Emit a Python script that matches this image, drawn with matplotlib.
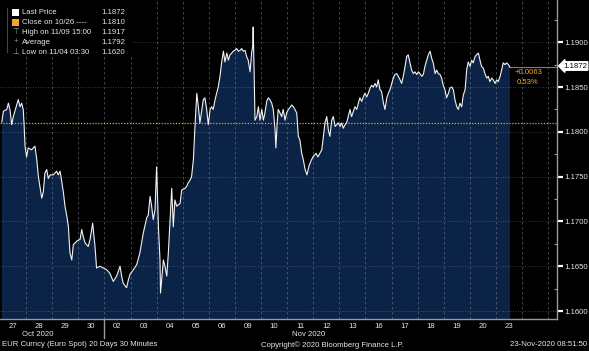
import matplotlib
matplotlib.use("Agg")
import matplotlib.pyplot as plt
from matplotlib.patches import Rectangle
from matplotlib.lines import Line2D

plt.rcParams['font.family'] = ['Liberation Sans', 'DejaVu Sans']

# trading days shown on the x axis (weekends compressed)
day_labels = ["27", "28", "29", "30", "02", "03", "04", "05", "06", "09",
              "10", "11", "12", "13", "16", "17", "18", "19", "20", "23"]

# position in trading days since 27 Oct 00:00, EUR/USD 30 min closes
t = [0.07, 0.13, 0.26, 0.32, 0.38, 0.45, 0.51, 0.64, 0.70, 0.77, 0.83, 0.89, 0.92, 0.96,
     1.02, 1.08, 1.21, 1.34, 1.41, 1.47, 1.53, 1.60, 1.66, 1.72, 1.79, 1.85, 1.92,
     2.04, 2.17, 2.23, 2.30, 2.36, 2.43, 2.49, 2.56, 2.62, 2.68, 2.75, 2.81, 2.94,
     3.07, 3.13, 3.19, 3.26, 3.38, 3.45, 3.55, 3.64, 3.70, 3.83, 3.96,
     4.09, 4.21, 4.34, 4.47, 4.60, 4.66, 4.72, 4.85, 4.92, 4.98,
     5.11, 5.24, 5.36, 5.49, 5.62, 5.68, 5.75, 5.81, 5.87, 5.94,
     6.00, 6.07, 6.13, 6.15, 6.26, 6.32, 6.39, 6.45, 6.51, 6.58, 6.64, 6.70, 6.77, 6.90, 6.96,
     7.09, 7.15, 7.21, 7.28, 7.34, 7.41, 7.47, 7.54, 7.60, 7.66, 7.79, 7.85, 7.92, 7.98,
     8.05, 8.11, 8.17, 8.24, 8.30, 8.36, 8.43, 8.49, 8.56, 8.62, 8.69, 8.75, 8.81, 8.88, 8.94,
     9.00, 9.07, 9.13, 9.20, 9.26, 9.32, 9.39, 9.45, 9.51, 9.58, 9.64, 9.68, 9.70, 9.74, 9.77,
     9.84, 9.90, 9.96,
     10.03, 10.09, 10.15, 10.22, 10.28, 10.34, 10.41, 10.47, 10.54, 10.57, 10.62, 10.66, 10.73,
     10.79, 10.85, 10.92, 10.98,
     11.05, 11.18, 11.24, 11.30, 11.37, 11.43, 11.49, 11.56, 11.62, 11.69, 11.76, 11.84, 11.92, 11.99,
     12.11, 12.18, 12.33, 12.39, 12.45, 12.52, 12.58, 12.64, 12.71, 12.77, 12.84, 12.90, 12.96,
     13.03, 13.09, 13.15, 13.22, 13.28, 13.34, 13.41, 13.47, 13.54, 13.60, 13.67, 13.73, 13.79,
     13.86, 13.92, 13.98,
     14.05, 14.11, 14.18, 14.24, 14.30, 14.37, 14.43, 14.49, 14.56, 14.62, 14.69, 14.75, 14.82,
     14.88, 14.94,
     15.01, 15.07, 15.13, 15.20, 15.26, 15.33, 15.39, 15.45, 15.52, 15.58, 15.64, 15.71, 15.77,
     15.84, 15.90, 15.97,
     16.03, 16.09, 16.16, 16.22, 16.28, 16.35, 16.41, 16.48, 16.54, 16.60, 16.67, 16.73, 16.79,
     16.86, 16.92, 16.98,
     17.05, 17.11, 17.18, 17.24, 17.31, 17.37, 17.43, 17.50, 17.56, 17.62, 17.69, 17.75, 17.82,
     17.88, 17.94,
     18.01, 18.07, 18.13, 18.20, 18.26, 18.33, 18.39, 18.45, 18.52, 18.58, 18.65, 18.71, 18.77,
     18.84, 18.90, 18.97,
     19.03, 19.09, 19.16, 19.22, 19.28, 19.35, 19.41, 19.48, 19.54]

price = [1.1811, 1.1823, 1.1825, 1.1832, 1.1825, 1.1808, 1.1817, 1.1830, 1.1836, 1.1828, 1.1832, 1.1825, 1.1810, 1.1784,
         1.1772, 1.1782, 1.1780, 1.1784, 1.1769, 1.1750, 1.1739, 1.1726, 1.1733, 1.1754, 1.1758, 1.1748, 1.1752,
         1.1752, 1.1756, 1.1752, 1.1756, 1.1746, 1.1732, 1.1717, 1.1706, 1.1694, 1.1665, 1.1657, 1.1674, 1.1678,
         1.1680, 1.1691, 1.1683, 1.1676, 1.1672, 1.1680, 1.1698, 1.1672, 1.1648, 1.1650, 1.1648,
         1.1646, 1.1642, 1.1633, 1.1639, 1.1650, 1.1639, 1.1631, 1.1626, 1.1635, 1.1641,
         1.1646, 1.1652, 1.1665, 1.1687, 1.1704, 1.1707, 1.1728, 1.1717, 1.1702, 1.1713,
         1.1761, 1.1694, 1.1657, 1.1620, 1.1657, 1.1650, 1.1639, 1.1665, 1.1698, 1.1737, 1.1694, 1.1724, 1.1717, 1.1720, 1.1735,
         1.1737, 1.1739, 1.1743, 1.1746, 1.1750, 1.1769, 1.1806, 1.1843, 1.1828, 1.1810, 1.1836, 1.1838, 1.1825, 1.1808,
         1.1825, 1.1828, 1.1825, 1.1836, 1.1843, 1.1850, 1.1862, 1.1877, 1.1890, 1.1878, 1.1888, 1.1880, 1.1886, 1.1888, 1.1890,
         1.1891, 1.1893, 1.1890, 1.1891, 1.1893, 1.1890, 1.1891, 1.1884, 1.1880, 1.1867, 1.1888, 1.1895, 1.1917, 1.1862, 1.1813,
         1.1817, 1.1828, 1.1813,
         1.1825, 1.1813, 1.1821, 1.1834, 1.1838, 1.1836, 1.1832, 1.1825, 1.1802, 1.1782, 1.1810, 1.1825, 1.1821,
         1.1817, 1.1825, 1.1813, 1.1821,
         1.1825, 1.1830, 1.1828, 1.1825, 1.1821, 1.1795, 1.1791, 1.1776, 1.1769, 1.1758, 1.1752, 1.1762, 1.1768, 1.1772,
         1.1776, 1.1772, 1.1780, 1.1795, 1.1810, 1.1817, 1.1802, 1.1795, 1.1813, 1.1817, 1.1806, 1.1808, 1.1810,
         1.1806, 1.1810, 1.1804, 1.1808, 1.1810, 1.1817, 1.1825, 1.1817, 1.1823, 1.1828, 1.1825, 1.1832, 1.1838,
         1.1834, 1.1839, 1.1843,
         1.1839, 1.1843, 1.1849, 1.1852, 1.1850, 1.1854, 1.1850, 1.1858, 1.1847, 1.1845, 1.1832, 1.1825, 1.1838,
         1.1843, 1.1847,
         1.1854, 1.1860, 1.1864, 1.1865, 1.1862, 1.1858, 1.1854, 1.1862, 1.1873, 1.1884, 1.1886, 1.1877, 1.1869,
         1.1865, 1.1867, 1.1864,
         1.1867, 1.1865, 1.1862, 1.1864, 1.1873, 1.1880, 1.1886, 1.1890, 1.1882, 1.1877, 1.1865, 1.1869, 1.1865,
         1.1864, 1.1860, 1.1852,
         1.1847, 1.1838, 1.1843, 1.1849, 1.1850, 1.1847, 1.1836, 1.1828, 1.1825, 1.1832, 1.1828, 1.1841, 1.1847,
         1.1869, 1.1878,
         1.1873, 1.1880, 1.1877, 1.1884, 1.1886, 1.1888, 1.1880, 1.1873, 1.1871, 1.1865, 1.1860, 1.1862, 1.1856,
         1.1860, 1.1858, 1.1854,
         1.1858, 1.1856, 1.1862, 1.1869, 1.1877, 1.1875, 1.1877, 1.1875, 1.1872]

close_prev = 1.1810
last_price = 1.1872
legend_rows = [("Last Price", "1.1872"), ("Close on 10/26 ----", "1.1810"),
               ("High on 11/09 15:00", "1.1917"), ("Average", "1.1792"),
               ("Low on 11/04 03:30", "1.1620")]
y_ticks = [1.1600, 1.1650, 1.1700, 1.1750, 1.1800, 1.1850, 1.1900]

W, H = 589, 351
BG = "black"
FILL = "#0a2346"
ORANGE = "#f0a630"
TXT = "#e6e6e6"
FS = 5.6

fig = plt.figure(figsize=(W / 100, H / 100), dpi=100, facecolor=BG)
ax = fig.add_axes([0, 1 - 319 / H, 557 / W, 319 / H], facecolor=BG)

ax.fill_between(t, price, 1.15, color=FILL, lw=0, zorder=1)
ax.plot(t, price, color="#f2f2f2", lw=0.8, zorder=4)

# grid
for y in y_ticks:
    ax.axhline(y, color="#8a8f99", lw=0.6, ls=(0, (1, 2)), alpha=0.55, zorder=2)
for d in range(1, len(day_labels) + 2):
    ax.axvline(d, color="#8a8f99", lw=0.6, ls=(0, (3, 3)), alpha=0.55, zorder=2)

ax.axhline(close_prev, color=ORANGE, lw=0.9, ls=(0, (1, 1.3)), zorder=3)
ax.plot([t[-1], 30], [last_price, last_price], color="#b07030", lw=0.8, zorder=3)

ax.set_xlim(0, 557 / 26.1)
ax.set_ylim(1.19 - 277 / 8967, 1.19 + 42.3 / 8967)

for s in ["left", "top"]:
    ax.spines[s].set_visible(False)
for s in ["right", "bottom"]:
    ax.spines[s].set_color("#9a9a9a")
    ax.spines[s].set_linewidth(1.0)

ax.yaxis.tick_right()
ax.set_yticks(y_ticks)
ax.set_yticklabels([f"{v:.4f}" for v in y_ticks])
ax.set_yticks([v + 0.0025 for v in y_ticks], minor=True)
ax.tick_params(axis="y", which="major", direction="out", length=4, width=1.6,
               color="white", labelcolor=TXT, labelsize=FS, pad=1.5)
ax.tick_params(axis="y", which="minor", direction="in", length=2, width=0.8, color="#9a9a9a")

ax.set_xticks([i + 0.5 for i in range(len(day_labels))])
ax.set_xticklabels(day_labels)
ax.tick_params(axis="x", length=0, labelcolor=TXT, labelsize=FS, pad=3)


def ft(x, y, s, **kw):
    kw.setdefault("color", TXT)
    kw.setdefault("fontsize", FS)
    return fig.text(x / W, 1 - y / H, s, **kw)


# month labels and separator
ft(38, 334.5, "Oct 2020", ha="center", va="center")
ft(309, 334.5, "Nov 2020", ha="center", va="center")
fig.add_artist(Line2D([104 / W, 104 / W], [1 - 319 / H, 1 - 338 / H], color="#9a9a9a", lw=1.0))

# footer
ft(2, 345, "EUR Curncy (Euro Spot) 20 Days 30 Minutes", ha="left", va="center")
ft(332, 345, "Copyright\u00a9 2020 Bloomberg Finance L.P.", ha="center", va="center")
ft(587, 345, "23-Nov-2020 08:51:50", ha="right", va="center")

# last price tag and change
ft(563, 66, "1.1872", ha="left", va="center", color="black",
   bbox=dict(boxstyle="larrow,pad=0.1", fc="white", ec="white"))
ft(515, 72, "+0.0063", ha="left", va="center", color=ORANGE)
ft(517, 82, "0.53%", ha="left", va="center", color=ORANGE)

# legend block
fig.add_artist(Rectangle((0, 1 - 57 / H), 133 / W, 57 / H, transform=fig.transFigure,
                         fc="black", ec="none", zorder=1))
fig.add_artist(Line2D([7 / W, 7 / W], [1 - 8 / H, 1 - 52 / H], color="#555555", lw=0.6, zorder=2))
rows_y = [12, 22, 32, 42, 52]
for (name, val), y in zip(legend_rows, rows_y):
    ft(22, y, name, ha="left", va="center", zorder=3)
    ft(125, y, val, ha="right", va="center", zorder=3)
fig.add_artist(Rectangle((12 / W, 1 - 15.5 / H), 7 / W, 7 / H, transform=fig.transFigure,
                         fc="white", ec="none", zorder=3))
fig.add_artist(Rectangle((12 / W, 1 - 25.5 / H), 7 / W, 7 / H, transform=fig.transFigure,
                         fc=ORANGE, ec="none", zorder=3))
ft(15.5, 32, "\u22a4", ha="center", va="center", color="#9a9a9a", zorder=3)
ft(15.5, 42, "+", ha="center", va="center", color="#9a9a9a", zorder=3)
ft(15.5, 52, "\u22a5", ha="center", va="center", color="#9a9a9a", zorder=3)

fig.savefig("out.png", dpi=100, facecolor=BG)
